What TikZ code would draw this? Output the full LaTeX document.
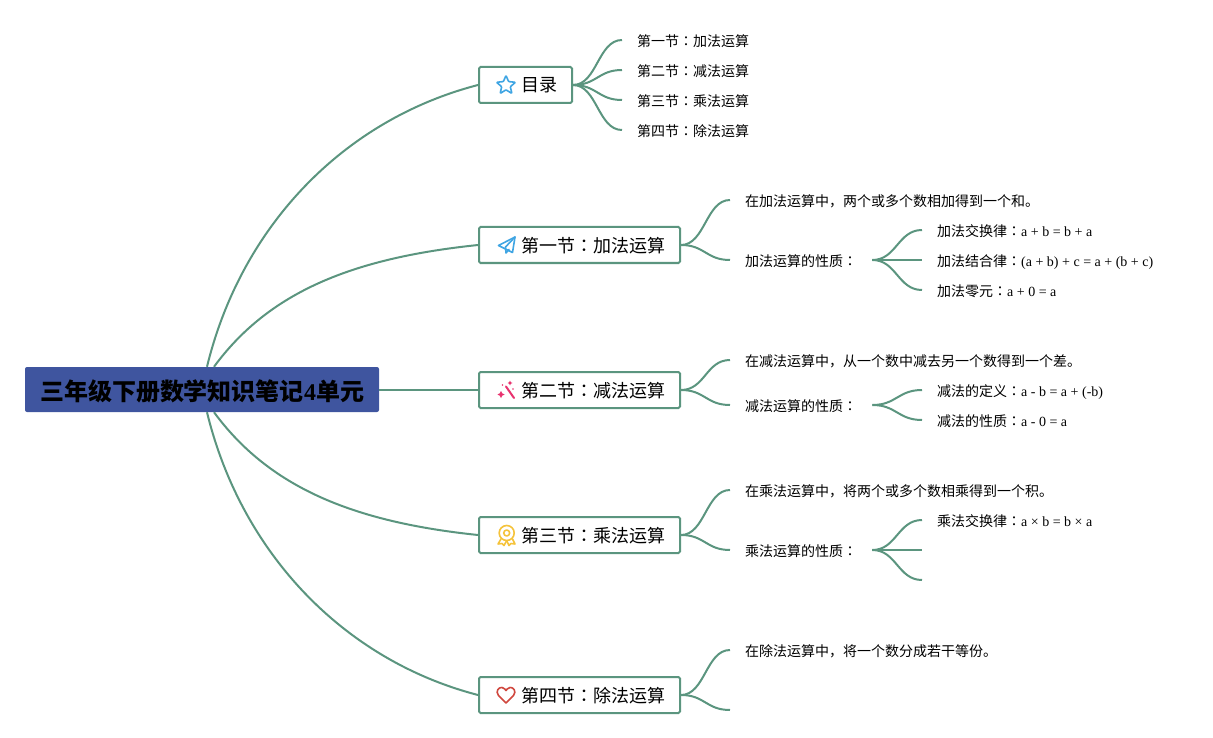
\documentclass[tikz,border=0pt]{standalone}
\usepackage{fontspec}
\setmainfont{Liberation Serif}
\newfontfamily\cjk{Noto Sans CJK SC}
\newfontfamily\cjktc{Noto Sans CJK TC}
\newfontfamily\cjkb{Noto Sans CJK SC Bold}
\newcommand{\zh}[1]{{\cjk #1}}
\newcommand{\cln}{{\cjktc ：}}
\newcommand{\tlabel}[1]{\hspace{27pt}#1}
\definecolor{linec}{HTML}{5B957F}
\definecolor{rootc}{HTML}{3F559F}
\definecolor{iblue}{HTML}{3FA5E3}
\definecolor{ipink}{HTML}{E8336F}
\definecolor{iyellow}{HTML}{F5C33B}
\definecolor{ired}{HTML}{D0473E}
\tikzset{
  conn/.style={draw=linec,line width=2pt},
  topic/.style={draw=linec,line width=2pt,fill=white,rounded corners=1.5pt,minimum height=36pt,inner sep=0pt,font=\fontsize{18}{20}\selectfont,text=black,text height=14pt,text depth=0pt},
  leaf/.style={anchor=west,inner xsep=15pt,inner ysep=0pt,font=\fontsize{14}{16}\selectfont,text=black,text height=13pt,text depth=0pt},
  rootbox/.style={fill=rootc,rounded corners=2pt,minimum width=354pt,minimum height=45pt,inner sep=0pt,font=\fontsize{24}{26}\selectfont\bfseries,text=black,text height=22pt,text depth=0pt},
  icon/.style={line width=1.6pt,line join=round,line cap=round,fill=none}
}
\begin{document}
\begin{tikzpicture}[x=1pt,y=-1pt]
\useasboundingbox (0,0) rectangle (1213,738);
% nodes
\node[rootbox] (root) at (202,389.5) {{\cjkb 三年级下册数学知识笔记}4{\cjkb 单元}};
\node[topic,minimum width=93pt] (t0) at (525.5,85) {\tlabel{\zh{目录}}};
\node[topic,minimum width=201pt] (t1) at (579.5,245) {\tlabel{\zh{第一节}\cln\zh{加法运算}}};
\node[topic,minimum width=201pt] (t2) at (579.5,390) {\tlabel{\zh{第二节}\cln\zh{减法运算}}};
\node[topic,minimum width=201pt] (t3) at (579.5,535) {\tlabel{\zh{第三节}\cln\zh{乘法运算}}};
\node[topic,minimum width=201pt] (t4) at (579.5,695) {\tlabel{\zh{第四节}\cln\zh{除法运算}}};
% contents leaves
\node[leaf] (c1) at (622,40) {\zh{第一节}\cln\zh{加法运算}};
\node[leaf] (c2) at (622,70) {\zh{第二节}\cln\zh{减法运算}};
\node[leaf] (c3) at (622,100) {\zh{第三节}\cln\zh{乘法运算}};
\node[leaf] (c4) at (622,130) {\zh{第四节}\cln\zh{除法运算}};
% section 1
\node[leaf] (a1) at (730,200) {\zh{在加法运算中，两个或多个数相加得到一个和。}};
\node[leaf,inner xsep=0pt,text width=142pt,align=left] (a2) at (730,260) {\hspace*{15pt}\zh{加法运算的性质}\cln};
\node[leaf] (a21) at (922,230) {\zh{加法交换律}\cln a + b = b + a};
\node[leaf] (a22) at (922,260) {\zh{加法结合律}\cln(a + b) + c = a + (b + c)};
\node[leaf] (a23) at (922,290) {\zh{加法零元}\cln a + 0 = a};
% section 2
\node[leaf] (b1) at (730,360) {\zh{在减法运算中，从一个数中减去另一个数得到一个差。}};
\node[leaf,inner xsep=0pt,text width=142pt,align=left] (b2) at (730,405) {\hspace*{15pt}\zh{减法运算的性质}\cln};
\node[leaf] (b21) at (922,390) {\zh{减法的定义}\cln a - b = a + (-b)};
\node[leaf] (b22) at (922,420) {\zh{减法的性质}\cln a - 0 = a};
% section 3
\node[leaf] (d1) at (730,490) {\zh{在乘法运算中，将两个或多个数相乘得到一个积。}};
\node[leaf,inner xsep=0pt,text width=142pt,align=left] (d2) at (730,550) {\hspace*{15pt}\zh{乘法运算的性质}\cln};
\node[leaf] (d21) at (922,520) {\zh{乘法交换律}\cln a × b = b × a};
\coordinate (d22) at (922,550);
\coordinate (d23) at (922,580);
% section 4
\node[leaf] (e1) at (730,650) {\zh{在除法运算中，将一个数分成若干等份。}};
\coordinate (e2) at (730,710);
% root connectors
\draw[conn] ([xshift=5pt]root.north) .. controls +(34,-140) and +(-135,35) .. (t0.west);
\draw[conn] ([xshift=12pt]root.north) .. controls +(55,-75) and +(-125,13) .. (t1.west);
\draw[conn] (root.east |- t2.west) -- (t2.west);
\draw[conn] ([xshift=12pt]root.south) .. controls +(55,75) and +(-125,-13) .. (t3.west);
\draw[conn] ([xshift=5pt]root.south) .. controls +(34,140) and +(-135,-35) .. (t4.west);
% branches
\foreach \s/\e in {t0/c1,t0/c2,t0/c3,t0/c4,t1/a1,t1/a2,t2/b1,t2/b2,t3/d1,t3/d2,t4/e1}{
  \draw[conn] (\s.east) .. controls +(24,0) and +(-24,0) .. (\e.west);
}
\draw[conn] (t4.east) .. controls +(24,0) and +(-24,0) .. (e2);
\foreach \s/\e in {a2/a21,a2/a22,a2/a23,b2/b21,b2/b22,d2/d21}{
  \draw[conn] (\s.east) .. controls +(24,0) and +(-24,0) .. (\e.west);
}
\draw[conn] (d2.east) -- (d22);
\draw[conn] (d2.east) .. controls +(24,0) and +(-24,0) .. (d23);
% icons: star
\draw[icon,iblue,rounded corners=0.8pt] (506,75.5) -- (508.6,81.6) -- (515.5,82.3) -- (510.3,86.7) -- (511.9,93.5) -- (506,89.8) -- (500.1,93.5) -- (501.7,86.7) -- (496.5,82.3) -- (503.4,81.6) -- cycle;
% plane
\draw[icon,iblue] (498.5,245.5) -- (515,237) -- (512.5,252.5) -- cycle;
\draw[icon,iblue] (515,237) -- (505.5,247) -- (506,253) -- (509,249.5);
% wand
\draw[ipink,line width=2pt,line cap=round] (506,386.5) -- (514,398);
\fill[ipink] (501,391) -- (502.2,393.3) -- (504.5,394.5) -- (502.2,395.7) -- (501,398) -- (499.8,395.7) -- (497.5,394.5) -- (499.8,393.3) -- cycle;
\fill[ipink] (510,380.5) -- (510.8,382.2) -- (512.5,383) -- (510.8,383.8) -- (510,385.5) -- (509.2,383.8) -- (507.5,383) -- (509.2,382.2) -- cycle;
\fill[ipink] (502.5,385) circle (0.9pt);
\fill[ipink] (513,389) circle (0.9pt);
% medal
\draw[icon,iyellow] (506.7,533) circle (7.5pt);
\draw[icon,iyellow] (506.7,533) circle (3pt);
\draw[icon,iyellow] (501,539) -- (498,544) -- (502,543.5) -- (504,545.5) -- (506.5,541);
\draw[icon,iyellow] (512.5,539) -- (515,544) -- (511,543.5) -- (509,545.5) -- (506.8,541);
% heart
\draw[icon,ired] (506,703) -- (498.5,695.5) .. controls (495,691) and (499,687) .. (502,687.5) .. controls (504,688) and (505.5,689.5) .. (506,690.5) .. controls (506.5,689.5) and (508,688) .. (510,687.5) .. controls (513,687) and (517,691) .. (513.5,695.5) -- cycle;
\end{tikzpicture}
\end{document}
